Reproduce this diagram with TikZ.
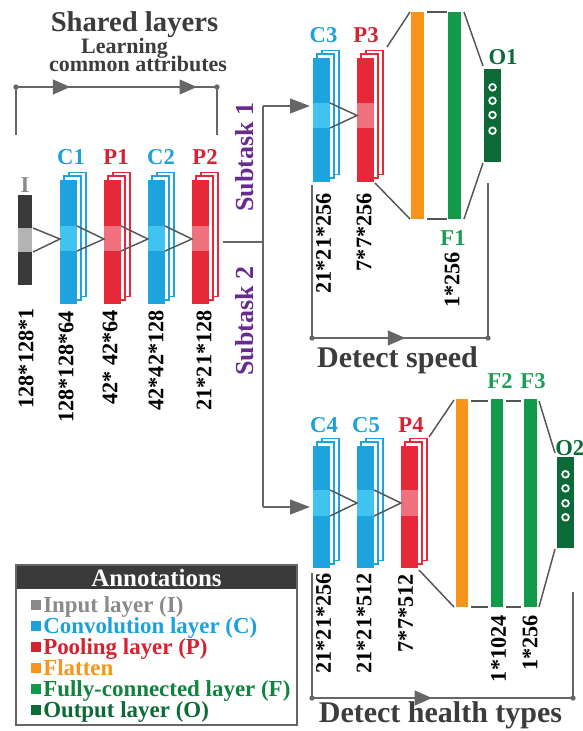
\documentclass[tikz,border=0pt]{standalone}
\usepackage{fontspec}
\setmainfont{Liberation Serif}
\usetikzlibrary{arrows.meta,decorations.markings}
\definecolor{cmain}{HTML}{1DA4DF}
\definecolor{cband}{HTML}{41C3EF}
\definecolor{pmain}{HTML}{E52939}
\definecolor{pband}{HTML}{F0717E}
\definecolor{imain}{HTML}{3A3A3A}
\definecolor{iband}{HTML}{B4B4B4}
\definecolor{orng}{HTML}{F7941D}
\definecolor{grn}{HTML}{119A4A}
\definecolor{dgrn}{HTML}{0C6A37}
\definecolor{purp}{HTML}{682C90}
\definecolor{dtext}{HTML}{3C3C3C}
\definecolor{lne}{HTML}{666666}
\definecolor{vln}{HTML}{555555}
\definecolor{clab}{HTML}{1BA2DD}
\definecolor{plab}{HTML}{D62230}
\definecolor{flab}{HTML}{1E9E55}
\definecolor{ilab}{HTML}{8A8A8A}
% layer stack: #1 left x, #2 top y, #3 bottom y, #4 band top, #5 band bottom, #6 prefix (c or p)
\newcommand\lstack[6]{%
  \draw[#6main, fill=white, line width=1.1pt] ({#1+9},{#2-7.5}) rectangle ({#1+26},{#3-7.5});
  \draw[#6main, fill=white, line width=1.1pt] ({#1+4},{#2-4}) rectangle ({#1+21},{#3-4});
  \fill[#6main] (#1,#2) rectangle ({#1+17},#3);
  \fill[#6band] (#1,#4) rectangle ({#1+17},#5);
}
\begin{document}
\begin{tikzpicture}[x=0.75pt,y=-0.75pt,
  lbl/.style={anchor=base, inner sep=0pt, font=\fontsize{17}{20}\selectfont\bfseries},
  dim/.style={rotate=90, anchor=east, inner sep=0pt, text=black, font=\fontsize{16.7}{18}\selectfont\bfseries},
  subt/.style={rotate=90, inner sep=0pt, text=purp, font=\fontsize{19.5}{22}\selectfont\bfseries},
  bigt/.style={anchor=base, inner sep=0pt, text=dtext, font=\fontsize{22.5}{26}\selectfont\bfseries},
  vl/.style={draw=vln, line width=1.1pt},
  brk/.style={draw=lne, line width=1.5pt},
  tip/.style={-{Triangle[length=15pt,width=11pt]}, draw=lne, line width=1.5pt, fill=lne},
  onearrow/.style={postaction={decorate}, decoration={markings,
      mark=at position #1 with {\arrow[lne]{Triangle[length=13pt,width=11pt]}}}},
  twoarrows/.style 2 args={postaction={decorate}, decoration={markings,
      mark=at position #1 with {\arrow[lne]{Triangle[length=13pt,width=11pt]}},
      mark=at position #2 with {\arrow[lne]{Triangle[length=13pt,width=11pt]}}}},
  leg/.style={anchor=base west, inner sep=0pt, font=\fontsize{17.2}{19}\selectfont\bfseries},
  ring/.style={draw=white, line width=1.3pt}
]
\useasboundingbox (0,0) rectangle (582,731);

% ---------------- titles ----------------
\node[anchor=base, inner sep=0pt, text=dtext, font=\fontsize{21.5}{24}\selectfont\bfseries] (shared) at (134.5,31.5) {Shared layers};
\node[anchor=base, inner sep=0pt, text=dtext, font=\fontsize{16.5}{18}\selectfont\bfseries] (learn1) at (124.5,53.5) {Learning};
\node[anchor=base, inner sep=0pt, text=dtext, font=\fontsize{16.5}{18}\selectfont\bfseries] (learn2) at (138,72) {common attributes};

% shared bracket
\coordinate (shL) at (16,87);
\coordinate (shR) at (217,87);
\coordinate (shLb) at (16,135);
\coordinate (shRb) at (217,135);
\draw[brk] (shLb) -- (shL);
\draw[brk] (shRb) -- (shR);
\draw[brk, twoarrows={0.27}{0.90}] (shL) -- (shR);
\fill[lne] (shL) circle (2pt) (shR) circle (2pt);

% ---------------- shared layers ----------------
\fill[imain] (18,195) rectangle (32,285);
\fill[iband] (18,228) rectangle (32,252);
\lstack{60}{180}{304}{226}{251}{c}
\lstack{104}{180}{304}{226}{251}{p}
\lstack{148}{180}{304}{226}{251}{c}
\lstack{192}{180}{304}{226}{251}{p}

\coordinate (It) at (33,228); \coordinate (Ib) at (33,252);
\coordinate (C1i) at (60,239); \coordinate (C1t) at (77,226); \coordinate (C1b) at (77,251);
\coordinate (P1i) at (104,239); \coordinate (P1t) at (121,226); \coordinate (P1b) at (121,251);
\coordinate (C2i) at (148,239); \coordinate (C2t) at (165,226); \coordinate (C2b) at (165,251);
\coordinate (P2i) at (192,239);
\draw[vl] (It) -- (C1i) -- (Ib);
\draw[vl] (C1t) -- (P1i) -- (C1b);
\draw[vl] (P1t) -- (C2i) -- (P1b);
\draw[vl] (C2t) -- (P2i) -- (C2b);

\node[lbl, text=ilab] (lI) at (25,192) {I};
\node[lbl, text=clab] (lC1) at (71,165) {C1};
\node[lbl, text=plab] (lP1) at (116,165) {P1};
\node[lbl, text=clab] (lC2) at (161,165) {C2};
\node[lbl, text=plab] (lP2) at (205,165) {P2};

\node[dim] (dI) at (26,308) {128*128*1};
\node[dim] (dC1) at (66,311) {128*128*64};
\node[dim] (dP1) at (110,310) {42* 42*64};
\node[dim] (dC2) at (156,310) {42*42*128};
\node[dim] (dP2) at (204,310) {21*21*128};

% ---------------- subtask split ----------------
\node[subt] (s1) at (245,157) {Subtask 1};
\node[subt] (s2) at (245,321) {Subtask 2};
\coordinate (split) at (263,242);
\coordinate (divL) at (223,242);
\coordinate (brT) at (263,106);
\coordinate (brB) at (263,507);
\coordinate (C3in) at (310,106);
\coordinate (C4in) at (310,507);
\draw[brk] (divL) -- (split);
\draw[brk] (brT) -- (brB);
\draw[tip] (brT) -- (C3in);
\draw[tip] (brB) -- (C4in);

% ---------------- subtask 1 ----------------
\lstack{313}{58}{182}{103}{128}{c}
\lstack{357}{58}{182}{103}{128}{p}
\coordinate (C3t) at (330,103); \coordinate (C3b) at (330,128);
\coordinate (P3i) at (357,115.5);
\draw[vl] (C3t) -- (P3i) -- (C3b);

\fill[orng] (411,12) rectangle (424,219);
\fill[grn] (448,12) rectangle (461,219);
\fill[dgrn] (484,69) rectangle (501,162);
\foreach \yy in {87.3,100.7,115,130.7} \draw[ring] (492.5,\yy) circle (2.5pt);

\coordinate (P3tr) at (387,47);   \coordinate (FLt) at (410,12);
\coordinate (P3br) at (375,183);  \coordinate (FLb) at (410,219);
\coordinate (FLtr) at (427,12);   \coordinate (F1tl) at (447,12);
\coordinate (FLbr) at (427,219);  \coordinate (F1bl) at (447,219);
\coordinate (F1tr) at (464,12);   \coordinate (O1tl) at (483,66);
\coordinate (F1br) at (464,219);  \coordinate (O1bl) at (483,163);
\draw[vl] (P3tr) -- (FLt);
\draw[vl] (P3br) -- (FLb);
\draw[vl] (FLtr) -- (F1tl);
\draw[vl] (FLbr) -- (F1bl);
\draw[vl] (F1tr) -- (O1tl);
\draw[vl] (F1br) -- (O1bl);

\node[lbl, text=clab] (lC3) at (323.5,43) {C3};
\node[lbl, text=plab] (lP3) at (366,43) {P3};
\node[lbl, text=dgrn] (lO1) at (503,65) {O1};
\node[lbl, text=flab] (lF1) at (453,245) {F1};

\node[dim] (dC3) at (323.5,193) {21*21*256};
\node[dim] (dP3) at (364,193) {7*7*256};
\node[dim] (dF1) at (452,252) {1*256};

% detect speed bracket
\coordinate (dsL) at (312,338); \coordinate (dsR) at (488,338);
\coordinate (dsLt) at (312,185); \coordinate (dsRt) at (488,183);
\draw[brk] (dsLt) -- (dsL);
\draw[brk] (dsRt) -- (dsR);
\draw[brk, onearrow=0.53] (dsL) -- (dsR);
\fill[lne] (dsL) circle (2pt) (dsR) circle (2pt);
\node[bigt] (speed) at (397.5,367) {Detect speed};

% ---------------- subtask 2 ----------------
\lstack{313}{446}{568}{490}{516}{c}
\lstack{357}{446}{568}{490}{516}{c}
\lstack{401}{446}{568}{490}{516}{p}
\coordinate (C4t) at (330,490); \coordinate (C4b) at (330,516);
\coordinate (C5i) at (357,503);
\coordinate (C5t) at (374,490); \coordinate (C5b) at (374,516);
\coordinate (P4i) at (401,503);
\draw[vl] (C4t) -- (C5i) -- (C4b);
\draw[vl] (C5t) -- (P4i) -- (C5b);

\fill[orng] (456,399) rectangle (468,607);
\fill[grn] (491,399) rectangle (503,607);
\fill[grn] (524,399) rectangle (537,607);
\fill[dgrn] (557,457) rectangle (574,548);
\foreach \yy in {474.3,488.3,503.3,517.3} \draw[ring] (565.5,\yy) circle (2.5pt);

\coordinate (P4tr) at (429,437);  \coordinate (FL2t) at (454,400);
\coordinate (P4br) at (419,570);  \coordinate (FL2b) at (454,607);
\coordinate (FL2tr) at (471,401); \coordinate (F2tl) at (488,401);
\coordinate (FL2br) at (471,607); \coordinate (F2bl) at (488,607);
\coordinate (F2tr) at (506,401);  \coordinate (F3tl) at (521,401);
\coordinate (F2br) at (506,607);  \coordinate (F3bl) at (521,607);
\coordinate (F3tr) at (539,401);  \coordinate (O2tl) at (555,453);
\coordinate (F3br) at (539,607);  \coordinate (O2bl) at (555,549);
\draw[vl] (P4tr) -- (FL2t);
\draw[vl] (P4br) -- (FL2b);
\draw[vl] (FL2tr) -- (F2tl);
\draw[vl] (FL2br) -- (F2bl);
\draw[vl] (F2tr) -- (F3tl);
\draw[vl] (F2br) -- (F3bl);
\draw[vl] (F3tr) -- (O2tl);
\draw[vl] (F3br) -- (O2bl);

\node[lbl, text=clab] (lC4) at (324,432) {C4};
\node[lbl, text=clab] (lC5) at (366,432) {C5};
\node[lbl, text=plab] (lP4) at (411,432) {P4};
\node[lbl, text=flab] (lF2) at (500,388) {F2};
\node[lbl, text=flab] (lF3) at (533,388) {F3};
\node[lbl, text=dgrn, anchor=base west] (lO2) at (555,455) {O2};

\node[dim] (dC4) at (323.5,573) {21*21*256};
\node[dim] (dC5) at (364,573) {21*21*512};
\node[dim] (dP4) at (405.5,574) {7*7*512};
\node[dim] (dF2) at (498.5,615) {1*1024};
\node[dim] (dF3) at (530,615) {1*256};

% detect health types bracket
\coordinate (dhL) at (312,698); \coordinate (dhR) at (573,698);
\coordinate (dhLt) at (312,573); \coordinate (dhRt) at (573,592);
\draw[brk] (dhLt) -- (dhL);
\draw[brk] (dhRt) -- (dhR);
\draw[brk, onearrow=0.46] (dhL) -- (dhR);
\fill[lne] (dhL) circle (2pt) (dhR) circle (2pt);
\node[bigt] (health) at (440.5,722.5) {Detect health types};

% ---------------- annotations ----------------
\fill[imain] (16,565) rectangle (297,589);
\draw[draw=lne, line width=1.2pt] (16,565) rectangle (297,725);
\node[anchor=base, inner sep=0pt, text=white, font=\fontsize{18.7}{21}\selectfont\bfseries] (annot) at (156.5,586) {Annotations};
\fill[ilab] (31,600) rectangle (41,610);
\node[leg, text=ilab] (leg1) at (43,612) {Input layer (I)};
\fill[clab] (31,621) rectangle (41,631);
\node[leg, text=clab] (leg2) at (43,633) {Convolution layer (C)};
\fill[plab] (31,642) rectangle (41,652);
\node[leg, text=plab] (leg3) at (43,654) {Pooling layer (P)};
\fill[orng] (31,663) rectangle (41,673);
\node[leg, text=orng] (leg4) at (43,675) {Flatten};
\fill[grn] (31,684) rectangle (41,694);
\node[leg, text=grn!85!black] (leg5) at (43,696) {Fully-connected layer (F)};
\fill[dgrn] (31,705) rectangle (41,715);
\node[leg, text=dgrn] (leg6) at (43,717) {Output layer (O)};
\end{tikzpicture}
\end{document}
